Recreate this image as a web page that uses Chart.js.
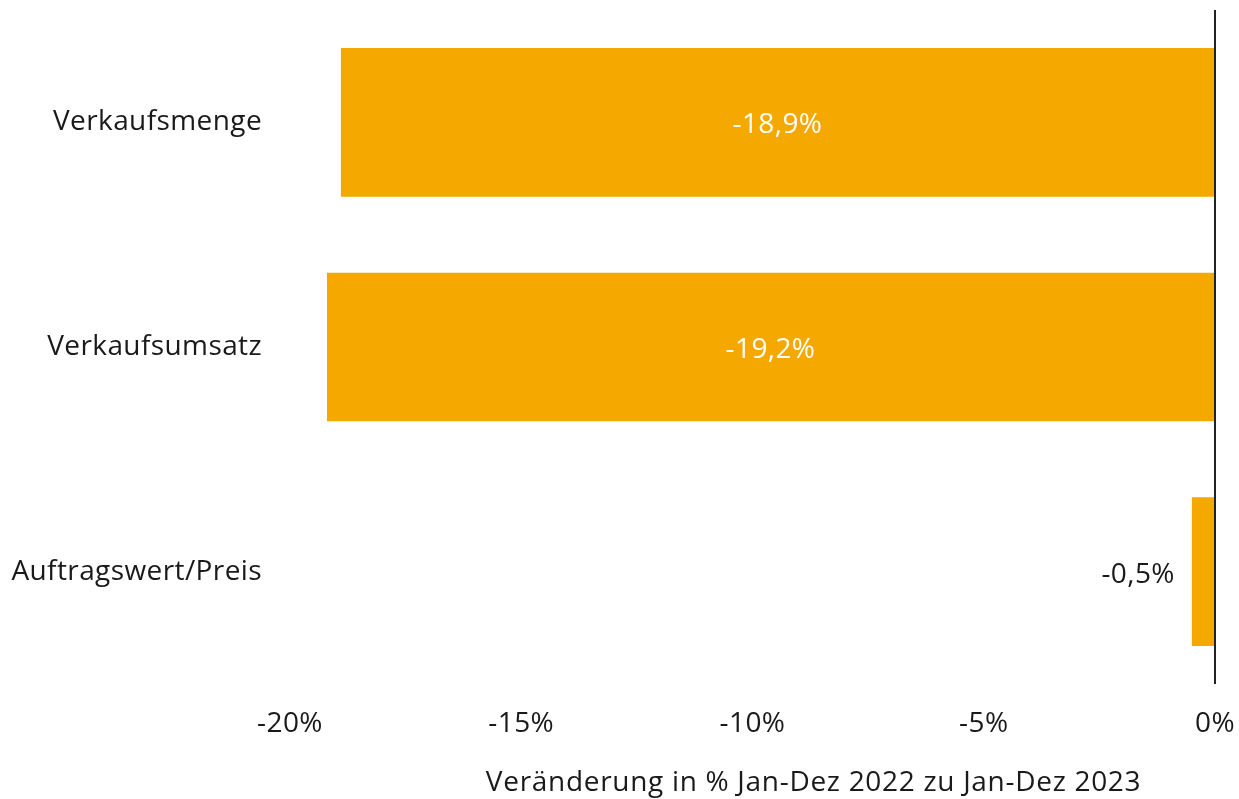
<!DOCTYPE html>
<html>
<head>
<meta charset="utf-8">
<script src="https://cdn.jsdelivr.net/npm/chart.js@4/dist/chart.umd.min.js"></script>
<style>
  html, body { margin: 0; padding: 0; background: #fff; }
  #wrap { width: 1239px; height: 799px; position: relative; }
</style>
</head>
<body>
<div id="wrap"><canvas id="c"></canvas></div>
<script>
const categories = ['Verkaufsmenge', 'Verkaufsumsatz', 'Auftragswert/Preis'];
const changes = [-18.9, -19.2, -0.5];
const tickValues = [-20, -15, -10, -5, 0];
const axisTitle = 'Veränderung in % Jan-Dez 2022 zu Jan-Dez 2023';

const FONT = '"Open Sans", Lato, sans-serif';
const FSIZE = 28;
const TEXT = '#1a1a1a';
const BAR = '#F5A800';

const fmt = v => String(v).replace('.', ',') + '%';

// Slightly open tracking for all chart text
const tracking = {
  id: 'tracking',
  beforeDraw(chart) { chart.ctx.letterSpacing = '0.4px'; }
};

// Value labels: white and centred inside long bars, dark and left of short ones
const valueLabels = {
  id: 'valueLabels',
  afterDatasetsDraw(chart) {
    const ctx = chart.ctx;
    const meta = chart.getDatasetMeta(0);
    ctx.save();
    ctx.font = FSIZE + 'px ' + FONT;
    ctx.textBaseline = 'middle';
    meta.data.forEach((bar, i) => {
      const txt = fmt(changes[i]);
      const w = Math.abs(bar.base - bar.x);
      const tw = ctx.measureText(txt).width;
      if (w > tw + 20) {
        ctx.fillStyle = '#ffffff';
        ctx.textAlign = 'center';
        ctx.fillText(txt, (bar.x + bar.base) / 2, bar.y + 3);
      } else {
        ctx.fillStyle = TEXT;
        ctx.textAlign = 'right';
        ctx.fillText(txt, bar.x - 17, bar.y + 3);
      }
    });
    ctx.restore();
  }
};

// Axis title below the tick labels
const xTitle = {
  id: 'xTitle',
  afterDraw(chart) {
    const ctx = chart.ctx;
    const a = chart.chartArea;
    ctx.save();
    ctx.font = FSIZE + 'px ' + FONT;
    ctx.letterSpacing = '0.7px';
    ctx.fillStyle = TEXT;
    ctx.textAlign = 'center';
    ctx.textBaseline = 'middle';
    ctx.fillText(axisTitle, a.left + (a.right - a.left) * 0.566, chart.height - 16);
    ctx.restore();
  }
};

new Chart(document.getElementById('c'), {
  type: 'bar',
  data: {
    labels: categories,
    datasets: [{
      data: changes,
      backgroundColor: BAR,
      borderWidth: 0,
      barPercentage: 0.662,
      categoryPercentage: 1.0
    }]
  },
  options: {
    indexAxis: 'y',
    responsive: true,
    maintainAspectRatio: false,
    animation: false,
    layout: { padding: { top: 10, right: 24, bottom: 0, left: 0 } },
    plugins: { legend: { display: false }, tooltip: { enabled: false } },
    scales: {
      x: {
        min: -20,
        max: 0,
        afterBuildTicks(scale) { scale.ticks = tickValues.map(v => ({ value: v })); },
        afterFit(scale) {
          scale.height = 115;
          scale.paddingLeft = 0; scale.paddingRight = 0;
        },
        border: { display: false },
        grid: {
          drawTicks: false,
          color: ctx => ctx.tick && ctx.tick.value === 0 ? '#222222' : 'rgba(0,0,0,0)',
          lineWidth: 2
        },
        ticks: {
          padding: 23,
          color: TEXT,
          font: { family: FONT, size: FSIZE },
          maxRotation: 0,
          callback: v => v + '%'
        }
      },
      y: {
        afterFit(scale) {
          scale.width = 290;
          scale.paddingTop = 0; scale.paddingBottom = 0;
        },
        border: { display: false },
        grid: { display: false, drawTicks: false },
        ticks: {
          padding: 28,
          color: TEXT,
          font: { family: FONT, size: FSIZE }
        }
      }
    }
  },
  plugins: [tracking, valueLabels, xTitle]
});
</script>
</body>
</html>
